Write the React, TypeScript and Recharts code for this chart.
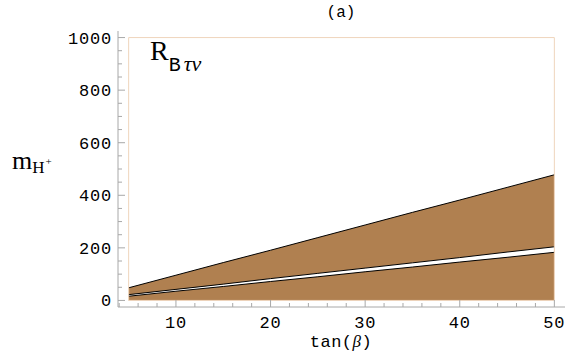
import React from 'react';
import { ComposedChart, Area, XAxis, YAxis, ReferenceArea } from 'recharts';

const tanBeta = [5, 10, 15, 20, 25, 30, 35, 40, 45, 50];
const upperBound = [48, 96, 144, 191, 239, 287, 335, 382, 430, 478];
const bandTop = [22, 42, 62, 83, 103, 123, 143, 163, 184, 204];
const bandBottom = [16, 35, 53, 72, 90, 109, 127, 146, 164, 183];

const xMajor = [10, 20, 30, 40, 50];
const xTicks = [4, 6, 8, 10, 12, 14, 16, 18, 20, 22, 24, 26, 28, 30, 32, 34, 36, 38, 40, 42, 44, 46, 48, 50];
const yMajor = [0, 200, 400, 600, 800, 1000];
const yTicks = [0, 50, 100, 150, 200, 250, 300, 350, 400, 450, 500, 550, 600, 650, 700, 750, 800, 850, 900, 950, 1000];

const data = tanBeta.map((t, i) => ({
  t,
  upper: upperBound[i],
  band: [bandBottom[i], bandTop[i]],
}));

const FRAME = '#a8a8a8';
const MONO = '"Liberation Mono", "DejaVu Sans Mono", monospace';
const SERIF = '"Liberation Serif", "DejaVu Serif", serif';

const makeTick = (orient: string, majors: number[], showLabel: boolean) => (props: any) => {
  const { x, y, payload } = props;
  const v = payload.value;
  const major = majors.includes(v);
  const len = major ? 7 : 4;
  let line;
  let label = null;
  if (orient === 'bottom') {
    line = <line x1={x} y1={y} x2={x} y2={y - len} stroke={FRAME} />;
    if (showLabel && major)
      label = (
        <text x={x} y={y + 21} textAnchor="middle" fontFamily={MONO} fontSize={17} letterSpacing={0.8} fill="#000">
          {v}
        </text>
      );
  } else if (orient === 'top') {
    line = <line x1={x} y1={y} x2={x} y2={y + len} stroke={FRAME} />;
  } else if (orient === 'left') {
    line = <line x1={x} y1={y} x2={x + len} y2={y} stroke={FRAME} />;
    if (showLabel && major)
      label = (
        <text x={x - 6} y={y + 6} textAnchor="end" fontFamily={MONO} fontSize={17} letterSpacing={0.8} fill="#000">
          {v}
        </text>
      );
  } else {
    line = <line x1={x} y1={y} x2={x - len} y2={y} stroke={FRAME} />;
  }
  return (
    <g>
      {line}
      {label}
    </g>
  );
};

export default function App() {
  return (
    <div style={{ position: 'absolute', left: 0, top: 0, width: 576, height: 356, background: '#fff' }}>
      <ComposedChart
        width={576}
        height={356}
        data={data}
        margin={{ top: 31, right: 11, bottom: 0, left: 0 }}
      >
        <XAxis
          xAxisId="b"
          dataKey="t"
          type="number"
          domain={[3.875, 51.125]}
          ticks={xTicks}
          interval={0}
          height={49}
          tickSize={0}
          tickMargin={0}
          stroke={FRAME}
          tickLine={false}
          tick={makeTick('bottom', xMajor, true)}
          allowDataOverflow
        />
        <XAxis
          xAxisId="t"
          orientation="top"
          dataKey="t"
          type="number"
          domain={[3.875, 51.125]}
          ticks={xTicks}
          interval={0}
          height={0}
          tickSize={0}
          tickMargin={0}
          stroke={FRAME}
          tickLine={false}
          tick={makeTick('top', xMajor, false)}
          allowDataOverflow
        />
        <YAxis
          yAxisId="l"
          type="number"
          domain={[-25, 1025]}
          ticks={yTicks}
          interval={0}
          width={118}
          tickSize={0}
          tickMargin={0}
          stroke={FRAME}
          tickLine={false}
          tick={makeTick('left', yMajor, true)}
          allowDataOverflow
        />
        <YAxis
          yAxisId="r"
          orientation="right"
          type="number"
          domain={[-25, 1025]}
          ticks={yTicks}
          interval={0}
          width={0}
          tickSize={0}
          tickMargin={0}
          stroke={FRAME}
          tickLine={false}
          tick={makeTick('right', yMajor, false)}
          allowDataOverflow
        />
        <Area
          xAxisId="b"
          yAxisId="l"
          type="linear"
          dataKey="upper"
          baseValue={0}
          fill="#B08050"
          fillOpacity={1}
          stroke="#000"
          strokeWidth={1}
          isAnimationActive={false}
        />
        <Area
          xAxisId="b"
          yAxisId="l"
          type="linear"
          dataKey="band"
          fill="#ffffff"
          fillOpacity={1}
          stroke="#000"
          strokeWidth={1}
          isAnimationActive={false}
        />
        <ReferenceArea
          xAxisId="b"
          yAxisId="l"
          x1={5}
          x2={50}
          y1={0}
          y2={1000}
          fill="none"
          fillOpacity={0}
          stroke="#EFD5BC"
          strokeWidth={1}
        />
      </ComposedChart>
      <svg
        width={576}
        height={356}
        style={{ position: 'absolute', left: 0, top: 0, pointerEvents: 'none' }}
      >
        <text x={341} y={17} textAnchor="middle" fontFamily={MONO} fontSize={16} fill="#000">
          (a)
        </text>
        <text x={341} y={347} textAnchor="middle" fontFamily={MONO} fontSize={17} letterSpacing={0.5} fill="#000">
          tan(<tspan fontFamily={SERIF} fontStyle="italic">β</tspan>)
        </text>
        <text x={12} y={169} fontFamily={SERIF} fontSize={26} fill="#000">
          m
          <tspan fontSize={17} dy={4}>H</tspan>
          <tspan fontSize={11} dy={-8} dx={1}>+</tspan>
        </text>
        <text x={150} y={60} fontFamily={SERIF} fontSize={28} fill="#000">
          R
          <tspan fontSize={20} dy={11} fontFamily={MONO}>B</tspan>
          <tspan fontSize={22} fontStyle="italic" dx={3}>τν</tspan>
        </text>
      </svg>
    </div>
  );
}
